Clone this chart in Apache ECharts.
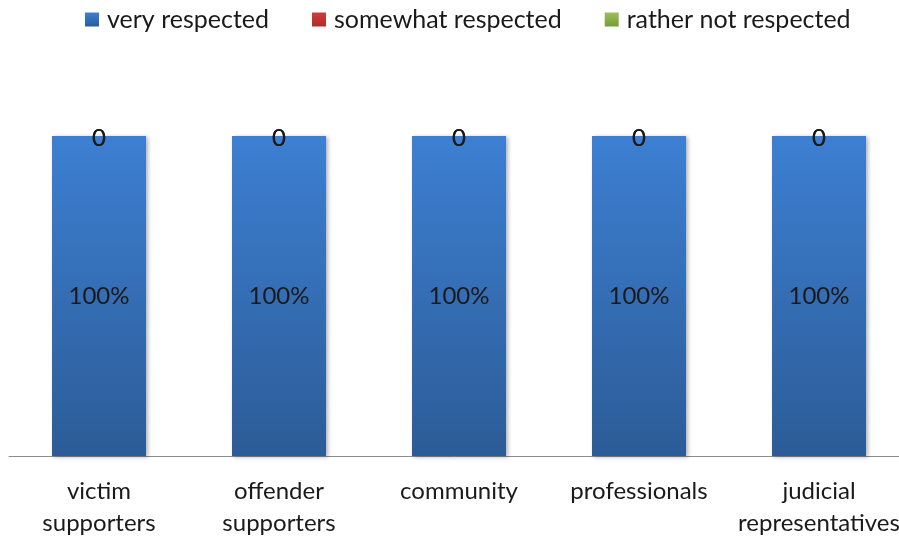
<!DOCTYPE html>
<html><head><meta charset="utf-8">
<script src="https://cdn.jsdelivr.net/npm/echarts@6/dist/echarts.min.js"></script>
<style>html,body{margin:0;padding:0;background:#fff}#c{width:899px;height:537px}</style>
</head><body><div id="c"></div>
<script>
const categories = ['victim\nsupporters','offender\nsupporters','community','professionals','judicial\nrepresentatives'];
const seriesNames = ['very respected','somewhat respected','rather not respected'];
const veryRespected = [100,100,100,100,100];
const somewhatRespected = [0,0,0,0,0];
const ratherNotRespected = [0,0,0,0,0];

const FONT = 'Lato';
const FS = 24;
function grad(a,b){return new echarts.graphic.LinearGradient(0,0,0,1,[{offset:0,color:a},{offset:1,color:b}]);}
const colors = [grad('#3d7fd2','#2c5c97'), grad('#d23c3a','#a82e2c'), grad('#9cc05a','#789a3c')];

const chart = echarts.init(document.getElementById('c'));
chart.setOption({
  animation:false,
  textStyle:{fontFamily:FONT},
  legend:{top:2,left:80,itemWidth:14,itemHeight:14,itemGap:43,icon:'rect',
    textStyle:{fontSize:25,color:'#1a1a1a',fontFamily:FONT,padding:[0,0,0,3]}},
  grid:{left:9,width:900,top:136,bottom:81,containLabel:false,outerBoundsMode:'none'},
  xAxis:{type:'category',data:categories,
    axisLine:{lineStyle:{color:'#8c8c8c',width:1}},axisTick:{show:false},
    axisLabel:{fontSize:FS,color:'#1a1a1a',lineHeight:32,margin:19,interval:0,fontFamily:FONT}},
  yAxis:{type:'value',min:0,max:100,show:false,splitLine:{show:false}},
  series:[
    {name:seriesNames[0],type:'bar',stack:'a',data:veryRespected,barWidth:94,
     itemStyle:{color:colors[0],shadowColor:'rgba(0,0,0,0.3)',shadowBlur:4,shadowOffsetX:2,shadowOffsetY:1},
     label:{show:true,position:'inside',formatter:p=>p.value+'%',fontSize:FS,color:'#1a1a1a',fontFamily:FONT}},
    {name:seriesNames[1],type:'bar',stack:'a',data:somewhatRespected,barWidth:94,
     itemStyle:{color:colors[1]},
     label:{show:true,position:'inside',offset:[0,2],formatter:p=>String(p.value),fontSize:FS,color:'#1a1a1a',fontFamily:FONT}},
    {name:seriesNames[2],type:'bar',stack:'a',data:ratherNotRespected,barWidth:94,
     itemStyle:{color:colors[2]},
     label:{show:true,position:'inside',offset:[0,2],formatter:p=>String(p.value),fontSize:FS,color:'#1a1a1a',fontFamily:FONT}}
  ]
});
</script></body></html>
